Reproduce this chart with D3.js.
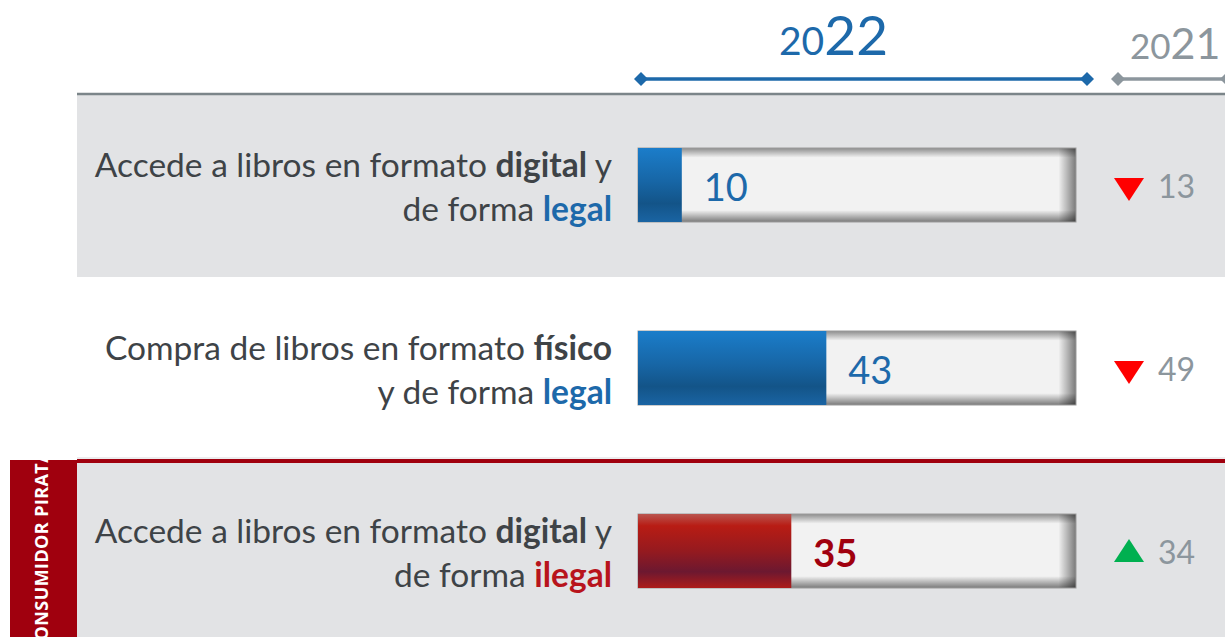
<!DOCTYPE html>
<html>
<head>
<meta charset="utf-8">
<script src="https://cdn.jsdelivr.net/npm/d3@7"></script>
<style>
  html, body { margin: 0; padding: 0; background: #fff; overflow: hidden; }
  svg { display: block; font-family: Lato, "Open Sans", sans-serif; }
</style>
</head>
<body>
<svg id="chart" width="1225" height="637"></svg>
<script>
// Data
const rowLabels = [
  ["Accede a libros en formato *digital* y", "de forma _legal_"],
  ["Compra de libros en formato *físico*", "y de forma _legal_"],
  ["Accede a libros en formato *digital* y", "de forma _ilegal_"]
];
const rowGroups = ["legal", "legal", "ilegal"];
const values2022 = [10, 43, 35];
const values2021 = [13, 49, 34];
const years = ["2022", "2021"];
const groupTitle = "CONSUMIDOR PIRATA";

const W = 1225, H = 637;
const svg = d3.select("#chart");

const blue = "#1d69aa", red = "#b8141c", darkRed = "#a0000e", grey = "#8c969d", textCol = "#3e4347";

const x = d3.scaleLinear().domain([0, 100]).range([638, 1076]);
const y = d3.scalePoint().domain(d3.range(rowLabels.length)).range([185, 551]);
const barH = 74;

// Gradients
const defs = svg.append("defs");
function vGrad(id, stops) {
  const g = defs.append("linearGradient").attr("id", id)
    .attr("x1", 0).attr("y1", 0).attr("x2", 0).attr("y2", 1);
  stops.forEach(s => g.append("stop").attr("offset", s[0]).attr("stop-color", s[1]).attr("stop-opacity", s[2] == null ? 1 : s[2]));
}
vGrad("fill-legal", [[0, "#1b7dca"], [0.45, "#1766a6"], [0.75, "#135488"], [1, "#1a64a3"]]);
vGrad("fill-ilegal", [[0, "#b9554f"], [0.16, "#b81c14"], [0.5, "#951a1f"], [0.78, "#6c1830"], [1, "#ad1c1a"]]);
vGrad("track-v", [[0, "#000", 0.42], [0.13, "#000", 0], [0.84, "#000", 0], [1, "#000", 0.5]]);
const hg = defs.append("linearGradient").attr("id", "track-h").attr("x1", 0).attr("x2", 1).attr("y1", 0).attr("y2", 0);
hg.append("stop").attr("offset", 0.96).attr("stop-color", "#000").attr("stop-opacity", 0);
hg.append("stop").attr("offset", 1).attr("stop-color", "#000").attr("stop-opacity", 0.5);

// Background bands on alternate rows
const rows = d3.range(rowLabels.length);
svg.append("g").selectAll("rect")
  .data(rows.filter(i => i % 2 === 0))
  .join("rect")
  .attr("x", 77).attr("y", i => y(i) - 90)
  .attr("width", W - 77).attr("height", 182)
  .attr("fill", "#e2e3e5");

// Header divider
svg.append("line").attr("x1", 77).attr("x2", W).attr("y1", 94).attr("y2", 94)
  .attr("stroke", "#7b8589").attr("stroke-width", 2.5);

// Red group marker for the "ilegal" rows
const ilegalRows = rows.filter(i => rowGroups[i] === "ilegal");
ilegalRows.forEach(i => {
  const top = y(i) - 91;
  defs.append("clipPath").attr("id", "tab-clip-" + i)
    .append("rect").attr("x", 10).attr("y", top).attr("width", 67).attr("height", H - top);
  svg.append("rect").attr("x", 77).attr("y", top - 3).attr("width", W - 77).attr("height", 3).attr("fill", "#ececee");
  svg.append("rect").attr("x", 77).attr("y", top - 1).attr("width", W - 77).attr("height", 4).attr("fill", darkRed);
  svg.append("rect").attr("x", 10).attr("y", top).attr("width", 67).attr("height", H - top).attr("fill", darkRed);
  svg.append("g").attr("clip-path", `url(#tab-clip-${i})`)
    .append("text")
    .attr("transform", `translate(48,${top - 10}) rotate(-90)`)
    .attr("text-anchor", "end")
    .attr("fill", "#fff").attr("font-family", "'Open Sans', sans-serif")
    .attr("font-weight", 700).attr("font-size", 18).attr("letter-spacing", 0.4)
    .text(groupTitle);
});

// Year headers
function diamond(g, cx, cy, col) {
  g.append("path").attr("d", `M${cx - 7},${cy}L${cx},${cy - 7}L${cx + 7},${cy}L${cx},${cy + 7}Z`).attr("fill", col);
}
const hdr = svg.append("g");
const lineY = 79;
// 2022
hdr.append("line").attr("x1", x(0) + 3).attr("x2", x(100) + 11).attr("y1", lineY).attr("y2", lineY)
  .attr("stroke", blue).attr("stroke-width", 3.5);
diamond(hdr, x(0) + 3, lineY, blue);
diamond(hdr, x(100) + 11, lineY, blue);
const t22 = hdr.append("text").attr("x", 779).attr("y", 55).attr("fill", blue);
t22.append("tspan").attr("font-size", 39).text(years[0].slice(0, 2));
t22.append("tspan").attr("font-size", 55).text(years[0].slice(2));
// 2021
hdr.append("line").attr("x1", 1118).attr("x2", W + 10).attr("y1", lineY).attr("y2", lineY)
  .attr("stroke", grey).attr("stroke-width", 3.5);
diamond(hdr, 1118, lineY, grey);
diamond(hdr, W + 2, lineY, grey);
const t21 = hdr.append("text").attr("x", 1130).attr("y", 59).attr("fill", grey);
t21.append("tspan").attr("font-size", 35).text(years[1].slice(0, 2));
t21.append("tspan").attr("font-size", 43).text(years[1].slice(2));

// Row labels
const labelX = x(0) - 26;
const lab = svg.append("g").attr("font-size", 33.5).attr("text-anchor", "end").attr("fill", textCol);
rows.forEach(i => {
  rowLabels[i].forEach((line, li) => {
    const t = lab.append("text").attr("x", labelX).attr("y", y(i) - 8 + li * 44);
    line.split(/(\*[^*]+\*|_[^_]+_)/).filter(s => s.length).forEach(part => {
      const ts = t.append("tspan");
      if (part[0] === "*") ts.attr("font-weight", 700).text(part.slice(1, -1));
      else if (part[0] === "_") ts.attr("font-weight", 700)
        .attr("fill", rowGroups[i] === "ilegal" ? red : blue).text(part.slice(1, -1));
      else ts.text(part);
    });
  });
});

// Bars: track, value fill, value label
const bars = svg.append("g").selectAll("g").data(rows).join("g");
bars.append("rect")
  .attr("x", x(0)).attr("y", i => y(i) - barH / 2)
  .attr("width", x(100) - x(0)).attr("height", barH)
  .attr("fill", "#f2f2f2");
bars.append("rect")
  .attr("x", x(0)).attr("y", i => y(i) - barH / 2)
  .attr("width", x(100) - x(0)).attr("height", barH)
  .attr("fill", "url(#track-v)");
bars.append("rect")
  .attr("x", x(0)).attr("y", i => y(i) - barH / 2)
  .attr("width", x(100) - x(0)).attr("height", barH)
  .attr("fill", "url(#track-h)").attr("stroke", "#9c9c9c").attr("stroke-width", 1);
bars.append("rect")
  .attr("x", x(0)).attr("y", i => y(i) - barH / 2)
  .attr("width", i => x(values2022[i]) - x(0)).attr("height", barH)
  .attr("fill", i => `url(#fill-${rowGroups[i]})`);
bars.append("text")
  .attr("x", i => x(values2022[i]) + 22).attr("y", i => y(i) + 16)
  .attr("font-size", 38)
  .attr("font-weight", i => rowGroups[i] === "ilegal" ? 700 : 400)
  .attr("fill", i => rowGroups[i] === "ilegal" ? darkRed : blue)
  .text(i => values2022[i]);

// Previous year value with change arrow
const prev = svg.append("g").selectAll("g").data(rows).join("g");
prev.append("path")
  .attr("transform", i => `translate(1129,${y(i) + 4})`)
  .attr("d", i => values2022[i] < values2021[i] ? "M-15,-11L15,-11L0,12Z" : "M-15,7L15,7L0,-16Z")
  .attr("fill", i => values2022[i] < values2021[i] ? "#ff0000" : "#00b050");
prev.append("text")
  .attr("x", 1195).attr("y", i => y(i) + 13)
  .attr("text-anchor", "end").attr("font-size", 32).attr("fill", grey)
  .text(i => values2021[i]);
</script>
</body>
</html>
